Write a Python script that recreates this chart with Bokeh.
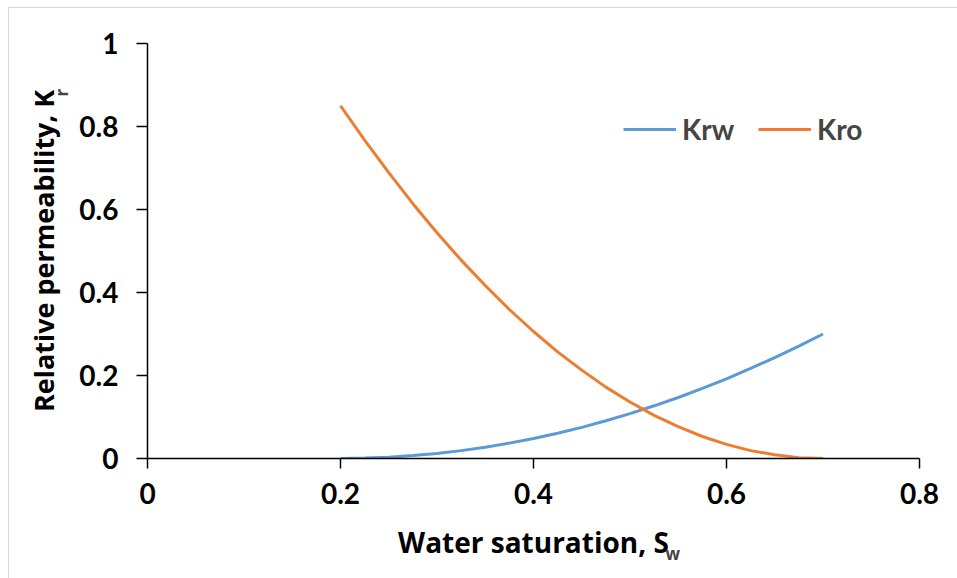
import math
from bokeh.plotting import figure
from bokeh.models import Range1d, FixedTicker, Label, Legend, LegendItem
from bokeh.embed import file_html
from bokeh.resources import INLINE

sw = [0.2, 0.225, 0.25, 0.275, 0.3, 0.325, 0.35, 0.375, 0.4, 0.425, 0.45,
      0.475, 0.5, 0.525, 0.55, 0.575, 0.6, 0.625, 0.65, 0.675, 0.7]
krw = [0, 0.001, 0.003, 0.007, 0.012, 0.019, 0.027, 0.037, 0.048, 0.061, 0.075,
       0.091, 0.108, 0.127, 0.147, 0.169, 0.192, 0.217, 0.243, 0.271, 0.3]
kro = [0.85, 0.767, 0.689, 0.614, 0.544, 0.478, 0.417, 0.359, 0.306, 0.257, 0.213,
       0.172, 0.136, 0.104, 0.077, 0.053, 0.034, 0.019, 0.009, 0.002, 0]

x_ticks = [0, 0.2, 0.4, 0.6, 0.8]
x_tick_labels = ["0", "0.2", "0.4", "0.6", "0.8"]
y_ticks = [0, 0.2, 0.4, 0.6, 0.8, 1]
y_tick_labels = ["0", "0.2", "0.4", "0.6", "0.8", "1"]

FONT = "Lato"
TFONT = "Open Sans"

p = figure(width=949, height=571, output_backend="svg", toolbar_location=None,
           x_range=Range1d(0, 0.8), y_range=Range1d(0, 1),
           min_border_left=138, min_border_right=39, min_border_top=35,
           min_border_bottom=121, margin=(7, 0, 0, 8))
p.styles = {"border-left": "1px solid #d9d9d9", "border-top": "1px solid #d9d9d9"}
p.background_fill_color = "white"
p.border_fill_color = "white"
p.outline_line_color = None
p.xgrid.visible = False
p.ygrid.visible = False

for ax, ticks, labels in ((p.xaxis[0], x_ticks, x_tick_labels), (p.yaxis[0], y_ticks, y_tick_labels)):
    ax.ticker = FixedTicker(ticks=ticks)
    ax.major_label_overrides = {t: l for t, l in zip(ticks, labels)}
    ax.axis_line_color = "black"
    ax.axis_line_width = 1.5
    ax.major_tick_line_color = "black"
    ax.major_tick_line_width = 1.5
    ax.major_tick_in = 0
    ax.minor_tick_line_color = None
    ax.major_label_text_font = FONT
    ax.major_label_text_font_style = "bold"
    ax.major_label_text_font_size = "28px"
    ax.major_label_text_color = "black"
    ax.axis_label_text_font = TFONT
    ax.axis_label_text_font_style = "bold"
    ax.axis_label_text_color = "black"
p.xaxis.axis_label_text_font_size = "28px"
p.yaxis.axis_label_text_font_size = "27px"
p.xaxis.major_tick_out = 10
p.yaxis.major_tick_out = 11
p.xaxis.major_label_standoff = 14
p.yaxis.major_label_standoff = 18
p.xaxis.axis_label = "Water saturation, S"
p.yaxis.axis_label = "Relative permeability, K"
p.xaxis.axis_label_standoff = 16
p.yaxis.axis_label_standoff = 14

r1 = p.line(sw, krw, line_color="#5B9BD5", line_width=3)
r2 = p.line(sw, kro, line_color="#ED7D31", line_width=3)

legend = Legend(items=[LegendItem(label="Krw", renderers=[r1]),
                       LegendItem(label="Kro", renderers=[r2])],
                orientation="horizontal", location=(476, 312),
                border_line_color=None, background_fill_alpha=0,
                padding=0, margin=0, spacing=24,
                glyph_width=53, glyph_height=30, label_height=30,
                label_standoff=6,
                label_text_font=FONT, label_text_font_style="bold",
                label_text_font_size="28px")
p.add_layout(legend)

# subscripts of the axis titles, placed from the spare top / right panels
xs = Label(x=518, y=-510, x_units="screen", y_units="screen",
           text="w", text_font=TFONT,
           text_font_style="bold", text_font_size="17px", text_baseline="alphabetic",
           text_align="left")
ys = Label(x=-858, y=362, x_units="screen", y_units="screen",
           text="r", text_font=TFONT,
           text_font_style="bold", text_font_size="17px", text_baseline="alphabetic",
           text_align="left", angle=math.pi / 2)
p.add_layout(xs, "above")
p.add_layout(ys, "right")

open("out.html", "w").write(file_html(p, INLINE))
